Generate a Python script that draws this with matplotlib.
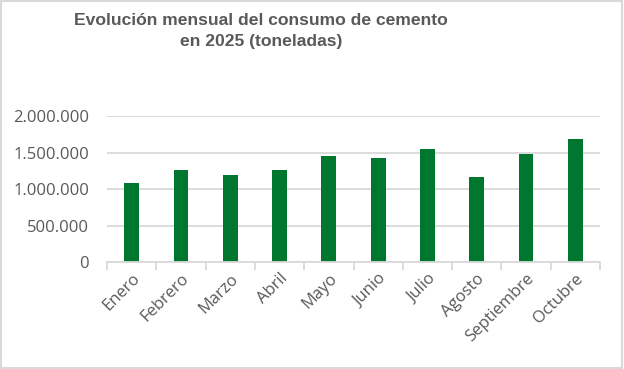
import matplotlib
matplotlib.use("Agg")
import matplotlib.pyplot as plt
from matplotlib.ticker import FuncFormatter, FixedLocator
from matplotlib.patches import Rectangle

meses = ['Enero', 'Febrero', 'Marzo', 'Abril', 'Mayo', 'Junio', 'Julio',
         'Agosto', 'Septiembre', 'Octubre']
consumo = [1085000, 1262000, 1195000, 1262000, 1453000, 1427000, 1550000,
           1166000, 1481000, 1686000]
y_ticks = [0, 500000, 1000000, 1500000, 2000000]

verde = '#00772F'
gris_texto = '#595959'
gris_linea = '#D9D9D9'


def miles(v, pos):
    return f'{int(v):,}'.replace(',', '.')


fig = plt.figure(figsize=(6.24, 3.69), dpi=100)
ax = fig.add_axes([107 / 624, 1 - 262.3 / 369, 493 / 624, 146.3 / 369])

x = list(range(len(meses)))
ax.bar(x, consumo, width=0.3, color=verde, zorder=3)

ax.set_xlim(-0.5, len(meses) - 0.5)
ax.set_ylim(0, 2000000)
ax.set_yticks(y_ticks)
ax.yaxis.set_major_formatter(FuncFormatter(miles))
ax.grid(axis='y', color=gris_linea, linewidth=1.3, zorder=0)

# ticks de categoria en los limites, etiquetas en el centro
ax.xaxis.set_major_locator(FixedLocator([i - 0.5 for i in range(len(meses) + 1)]))
ax.xaxis.set_major_formatter(FuncFormatter(lambda v, p: ''))
ax.xaxis.set_minor_locator(FixedLocator(x))
ax.set_xticklabels(meses, minor=True)
ax.tick_params(axis='x', which='major', length=6, width=1.3, color=gris_linea)
ax.tick_params(axis='x', which='minor', length=0, pad=6)
ax.tick_params(axis='y', length=0, pad=13)

for lbl in ax.get_xticklabels(minor=True):
    lbl.set_rotation(45)
    lbl.set_ha('right')
    lbl.set_va('top')
    lbl.set_rotation_mode('anchor')
for lbl in ax.get_xticklabels(minor=True) + ax.get_yticklabels():
    lbl.set_fontfamily('Open Sans')
    lbl.set_fontsize(12)
    lbl.set_color(gris_texto)

for s in ['top', 'right', 'left']:
    ax.spines[s].set_visible(False)
ax.spines['bottom'].set_color(gris_linea)
ax.spines['bottom'].set_linewidth(1.3)
ax.spines['bottom'].set_zorder(4)

fig.text(261 / 624, 1 - 31 / 369,
         'Evolución mensual del consumo de cemento\nen 2025 (toneladas)',
         ha='center', va='center', multialignment='center', fontsize=12.6,
         fontweight='bold', family='Liberation Sans', color=gris_texto,
         linespacing=1.55)

fig.patches.append(Rectangle((0.002, 0.004), 0.994, 0.992, transform=fig.transFigure,
                             fill=False, edgecolor=gris_linea, linewidth=1.5))

fig.savefig('out.png', dpi=100)
